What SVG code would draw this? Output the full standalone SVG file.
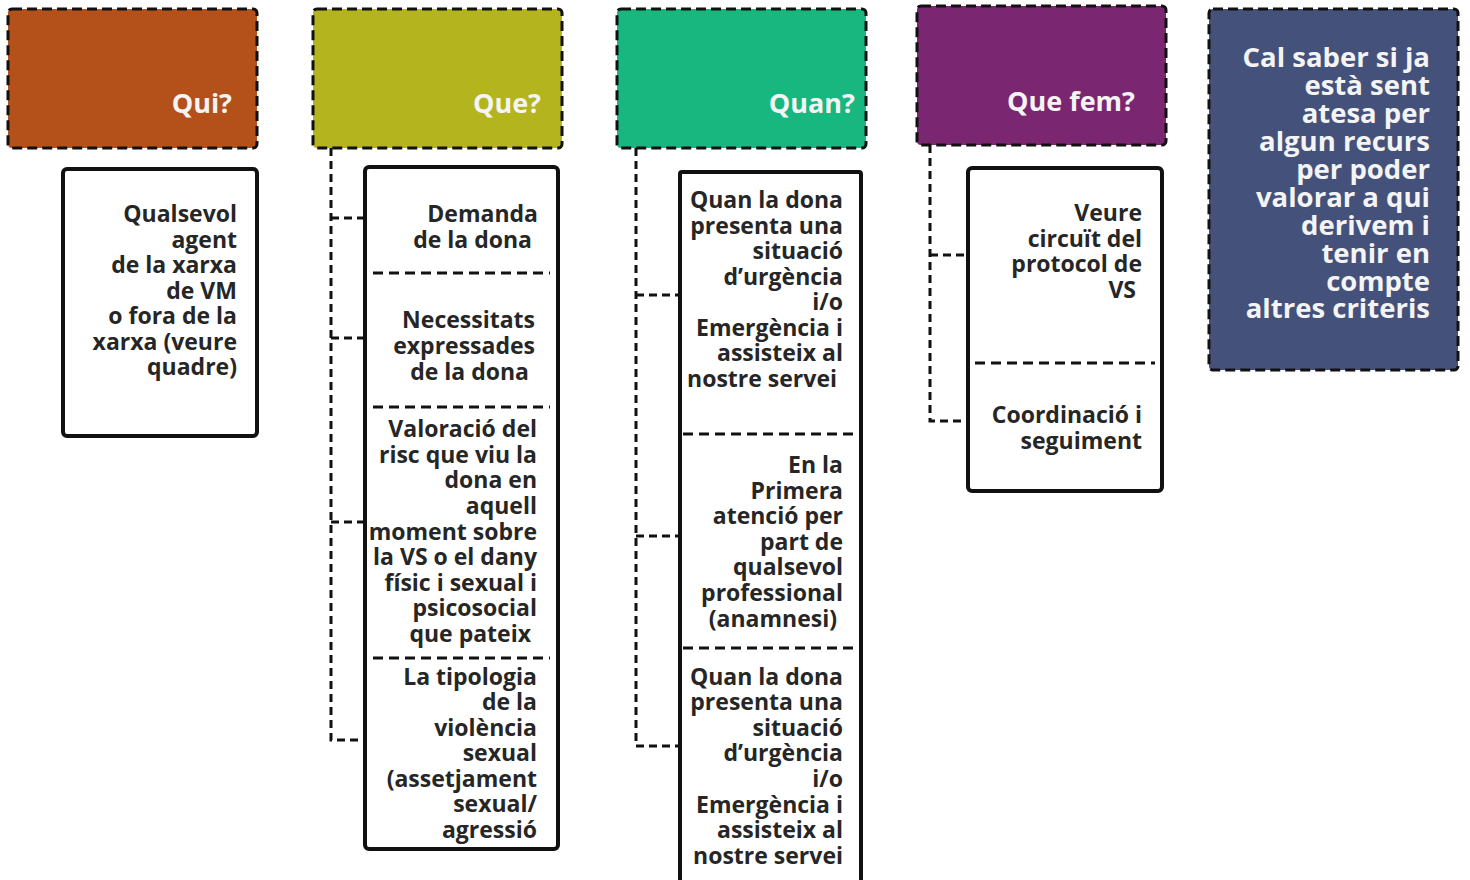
<svg xmlns="http://www.w3.org/2000/svg" width="1470" height="880" viewBox="0 0 1470 880">
<style>
.hdr{stroke:#111;stroke-width:3;stroke-dasharray:10 5}
.box{fill:#fff;stroke:#111;stroke-width:4}
.sep{stroke:#111;stroke-width:3;stroke-dasharray:10 6;fill:none}
.con{stroke:#111;stroke-width:3;stroke-dasharray:8 5;fill:none}
.ht{font-family:"Open Sans",Lato,sans-serif;font-weight:bold;font-size:27px;fill:#f4f4f4;text-anchor:end}
.bt{font-family:"Open Sans",Lato,sans-serif;font-weight:bold;font-size:23px;fill:#262626;text-anchor:end}
.wt{font-family:"Open Sans",Lato,sans-serif;font-weight:bold;font-size:27.5px;fill:#f4f4f4;text-anchor:end}
</style>
<rect width="1470" height="880" fill="#fff"/>
<g id="connectors">
<path class="con" d="M331 148 V740 H365 M331 218 H365 M331 338 H365 M331 522 H365"/>
<path class="con" d="M636 148 V746 H680 M636 295 H680 M636 536 H680"/>
<path class="con" d="M930 145 V421 H968 M930 255 H968"/>
</g>
<g id="qui-header"><rect class="hdr" x="8" y="9" width="249" height="139" rx="4" fill="#B4501A"/><text class="ht" x="232" y="113">Qui?</text></g>
<g id="que-header"><rect class="hdr" x="313" y="9" width="249" height="139" rx="4" fill="#B3B41E"/><text class="ht" x="541" y="113">Que?</text></g>
<g id="quan-header"><rect class="hdr" x="617" y="9" width="249" height="139" rx="4" fill="#17B77F"/><text class="ht" x="855" y="113">Quan?</text></g>
<g id="quefem-header"><rect class="hdr" x="917" y="6" width="249" height="139" rx="4" fill="#7B2670"/><text class="ht" x="1135" y="111">Que fem?</text></g>
<g id="note"><rect class="hdr" x="1209" y="9" width="249" height="361" rx="4" fill="#44527B"/>
<text class="wt"><tspan x="1430" y="67">Cal saber si ja</tspan><tspan x="1430" y="95">està sent</tspan><tspan x="1430" y="123">atesa per</tspan><tspan x="1430" y="151">algun recurs</tspan><tspan x="1430" y="179">per poder</tspan><tspan x="1430" y="207">valorar a qui</tspan><tspan x="1430" y="235">derivem i</tspan><tspan x="1430" y="263">tenir en</tspan><tspan x="1430" y="291">compte</tspan><tspan x="1430" y="318">altres criteris</tspan></text></g>
<g id="qui-box"><rect class="box" x="63" y="169" width="194" height="267" rx="4"/>
<text class="bt"><tspan x="237" y="222">Qualsevol</tspan><tspan x="237" y="248">agent</tspan><tspan x="237" y="273">de la xarxa</tspan><tspan x="237" y="299">de VM</tspan><tspan x="237" y="324">o fora de la</tspan><tspan x="237" y="350">xarxa (veure</tspan><tspan x="237" y="375">quadre)</tspan></text></g>
<g id="que-box"><rect class="box" x="365" y="167" width="193" height="682" rx="4"/>
<path class="sep" d="M373 273 H550 M373 407 H550 M373 658 H550"/>
<text class="bt"><tspan x="538" y="222">Demanda</tspan><tspan x="538" y="248">de la dona</tspan>
<tspan x="535" y="328">Necessitats</tspan><tspan x="535" y="354">expressades</tspan><tspan x="535" y="380">de la dona</tspan>
<tspan x="537" y="437">Valoració del</tspan><tspan x="537" y="463">risc que viu la</tspan><tspan x="537" y="488">dona en</tspan><tspan x="537" y="514">aquell</tspan><tspan x="537" y="540">moment sobre</tspan><tspan x="537" y="565">la VS o el dany</tspan><tspan x="537" y="591">físic i sexual i</tspan><tspan x="537" y="616">psicosocial</tspan><tspan x="537" y="642">que pateix</tspan>
<tspan x="537" y="685">La tipologia</tspan><tspan x="537" y="710">de la</tspan><tspan x="537" y="736">violència</tspan><tspan x="537" y="761">sexual</tspan><tspan x="537" y="787">(assetjament</tspan><tspan x="537" y="812">sexual/</tspan><tspan x="537" y="838">agressió</tspan></text></g>
<g id="quan-box"><rect class="box" x="680" y="172" width="181" height="712" rx="2"/>
<path class="sep" d="M683 434 H858 M683 648 H858"/>
<text class="bt"><tspan x="843" y="208">Quan la dona</tspan><tspan x="843" y="234">presenta una</tspan><tspan x="843" y="259">situació</tspan><tspan x="843" y="285">d’urgència</tspan><tspan x="843" y="310">i/o</tspan><tspan x="843" y="336">Emergència i</tspan><tspan x="843" y="361">assisteix al</tspan><tspan x="843" y="387">nostre servei</tspan>
<tspan x="843" y="473">En la</tspan><tspan x="843" y="499">Primera</tspan><tspan x="843" y="524">atenció per</tspan><tspan x="843" y="550">part de</tspan><tspan x="843" y="575">qualsevol</tspan><tspan x="843" y="601">professional</tspan><tspan x="843" y="627">(anamnesi)</tspan>
<tspan x="843" y="685">Quan la dona</tspan><tspan x="843" y="710">presenta una</tspan><tspan x="843" y="736">situació</tspan><tspan x="843" y="761">d’urgència</tspan><tspan x="843" y="787">i/o</tspan><tspan x="843" y="813">Emergència i</tspan><tspan x="843" y="838">assisteix al</tspan><tspan x="843" y="864">nostre servei</tspan></text></g>
<g id="quefem-box"><rect class="box" x="968" y="168" width="194" height="323" rx="4"/>
<path class="sep" d="M975 363 H1155"/>
<text class="bt"><tspan x="1142" y="221">Veure</tspan><tspan x="1142" y="247">circuït del</tspan><tspan x="1142" y="272">protocol de</tspan><tspan x="1142" y="298">VS</tspan>
<tspan x="1142" y="423">Coordinació i</tspan><tspan x="1142" y="449">seguiment</tspan></text></g>
</svg>
